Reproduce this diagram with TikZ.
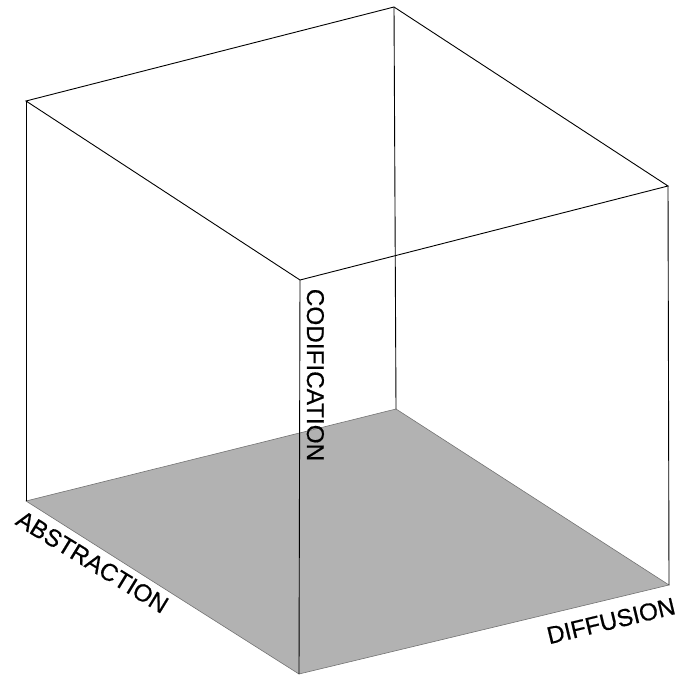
\documentclass[tikz,border=0pt]{standalone}
\usepackage{fontspec}
\setmainfont{Liberation Sans}
\newfontfamily\labelfont[FakeBold=0.5]{Liberation Sans}
\begin{document}
\begin{tikzpicture}[x=1pt,y=-1pt,
  edge/.style={draw=black,line width=0.9pt},
  floor/.style={fill=black!30,draw=black!55,line width=0.6pt},
  axislabel/.style={inner sep=0pt,anchor=base,font=\labelfont\fontsize{24.3}{29}\selectfont}]
\useasboundingbox (0,0) rectangle (678,679);
% vertices
\coordinate (TB) at (394,7);
\coordinate (TL) at (26,101);
\coordinate (TR) at (668,186);
\coordinate (TF) at (300,280);
\coordinate (BB) at (396,409);
\coordinate (BL) at (26,501);
\coordinate (BR) at (669,585);
\coordinate (BF) at (299,674);
% floor
\path[floor] (BL) -- (BB) -- (BR) -- (BF) -- cycle;
% top face
\draw[edge] (TL) -- (TB) -- (TR) -- (TF) -- cycle;
% verticals
\draw[edge] (TL) -- (BL);
\draw[edge] (TR) -- (BR);
\draw[edge] (TB) -- (BB);
\draw[edge] (TF) -- (BF);
% labels
\node[axislabel,rotate=-90] (cod) at (307,375) {CODIFICATION};
\node[axislabel,rotate=-31.5] (abs) at (88,569) {ABSTRACTION};
\node[axislabel,rotate=13.5] (dif) at (613,629) {DIFFUSION};
\end{tikzpicture}
\end{document}
